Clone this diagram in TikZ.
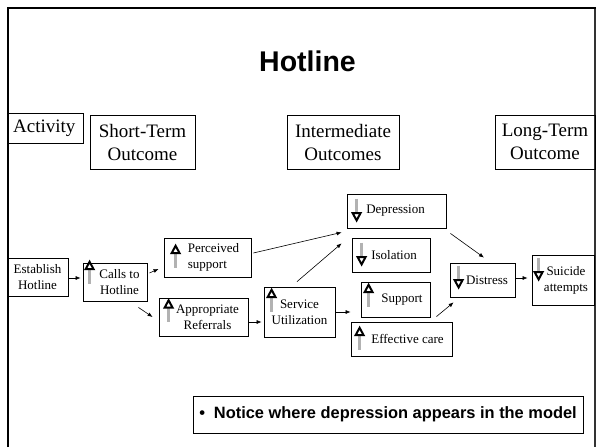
\documentclass[tikz,border=0pt]{standalone}
\usepackage{fontspec}
\setmainfont{Liberation Serif}
\setsansfont{Liberation Sans}
\usetikzlibrary{arrows.meta,fit}

\tikzset{
  upmark/.pic={
    \draw[gray!60,line width=2.4pt] (0,8) -- (0,23);
    \draw[line width=2pt,fill=white,line join=miter] (0,1.2) -- (4,8.6) -- (-4,8.6) -- cycle;
  },
  downmark/.pic={
    \draw[gray!60,line width=2.4pt] (0,0) -- (0,14);
    \draw[line width=2pt,fill=white,line join=miter] (0,21.8) -- (4,14.4) -- (-4,14.4) -- cycle;
  }
}

\begin{document}
\begin{tikzpicture}[x=1pt,y=-1pt,
  box/.style={draw,line width=0.8pt,inner sep=0pt},
  smalltxt/.style={font=\fontsize{13}{16}\selectfont,align=center},
  headtxt/.style={font=\fontsize{19}{23}\selectfont,align=center},
  arr/.style={-{Latex[length=5pt,width=4pt]},line width=0.6pt}]
\useasboundingbox (0,0) rectangle (596,447);

% slide frame
\draw[line width=2.6pt] (7.8,447) -- (7.8,7.8) -- (596,7.8);
\draw[line width=1.3pt,black!80] (595,9) -- (595,447);

\node[anchor=base,font=\sffamily\bfseries\fontsize{28.5}{34}\selectfont] (title) at (307.5,71.7) {Hotline};

% column headings
\node[box,fit={(7.6,113) (83,143)},label={[headtxt,xshift=-1]center:Activity}] (act) {};
\node[box,fit={(90,115) (195,169)},label={[headtxt]center:Short-Term\\Outcome}] (short) {};
\node[box,fit={(287,115) (399,169)},label={[headtxt]center:Intermediate\\Outcomes}] (inter) {};
\node[box,fit={(495,115) (595,169)},label={[headtxt]center:Long-Term\\Outcome}] (long) {};

% model boxes
\node[box,fit={(7,258) (68,296)},label={[smalltxt]center:Establish\\Hotline}] (est) {};
\node[box,fit={(83,263) (147,301)},label={[smalltxt,xshift=4.5]center:Calls to\\Hotline}] (calls) {};
\node[box,fit={(164,238) (251,277)},label={[smalltxt,align=left,xshift=6]center:Perceived\\support}] (perc) {};
\node[box,fit={(159,298) (248,336)},label={[smalltxt,xshift=4]center:Appropriate\\Referrals}] (refer) {};
\node[box,fit={(264,287) (335,337)},label={[smalltxt]center:Service\\Utilization}] (serv) {};
\node[box,fit={(347,194) (446,228)},label={[smalltxt,xshift=-1]center:Depression}] (dep) {};
\node[box,fit={(352,238) (430,272)},label={[smalltxt,xshift=3]center:Isolation}] (iso) {};
\node[box,fit={(361,282) (430,317)},label={[smalltxt,xshift=6.5]center:Support}] (supp) {};
\node[box,fit={(351,322) (452,356)},label={[smalltxt,xshift=6]center:Effective care}] (care) {};
\node[box,fit={(450,263) (515,297)},label={[smalltxt,xshift=4.5]center:Distress}] (dist) {};
\node[box,fit={(532,255) (594,305)},label={[smalltxt,xshift=3]center:Suicide\\attempts}] (suic) {};

% up / down marks
\pic at ([shift={(7,-2)}]calls.north west) {upmark};
\pic at ([shift={(12,7)}]perc.north west) {upmark};
\pic at ([shift={(10,1.5)}]refer.north west) {upmark};
\pic at ([shift={(8,2)}]serv.north west) {upmark};
\pic at ([shift={(10,5)}]dep.north west) {downmark};
\pic at ([shift={(10,5)}]iso.north west) {downmark};
\pic at ([shift={(8,2)}]supp.north west) {upmark};
\pic at ([shift={(9,5)}]care.north west) {upmark};
\pic at ([shift={(9,3)}]dist.north west) {downmark};
\pic at ([shift={(7,3)}]suic.north west) {downmark};

% links
\draw[arr] ([shift={(0,1)}]est.east) -- ([shift={(-2,-4)}]calls.west);
\draw[arr] ([shift={(2,-9)}]calls.east) -- ([shift={(-5,11.5)}]perc.west);
\draw[arr] ([shift={(-9,6)}]calls.south east) -- ([shift={(-6,0)}]refer.west);
\draw[arr] ([shift={(0,5)}]refer.east) -- ([shift={(-2,10)}]serv.west);
\draw[arr] ([shift={(2,-4.5)}]perc.east) -- ([shift={(-5,4)}]dep.south west);
\draw[arr] ([shift={(-2.5,-5)}]serv.north) -- ([shift={(-5,15)}]dep.south west);
\draw[arr] ([shift={(1,0)}]serv.east) -- ([shift={(-10,12.5)}]supp.west);
\draw[arr] ([shift={(-16,-5)}]care.north east) -- ([shift={(4,5)}]dist.south west);
\draw[arr] ([shift={(4,5)}]dep.south east) -- ([shift={(1.5,-5)}]dist.north);
\draw[arr] ([shift={(0,-2)}]dist.east) -- ([shift={(-4,-2)}]suic.west);

\node[box,fit={(193,396) (583,433)},label={[font=\sffamily\bfseries\fontsize{16.4}{19}\selectfont]center:\textbullet\hspace{9pt}Notice where depression appears in the model}] (note) {};
\end{tikzpicture}
\end{document}
